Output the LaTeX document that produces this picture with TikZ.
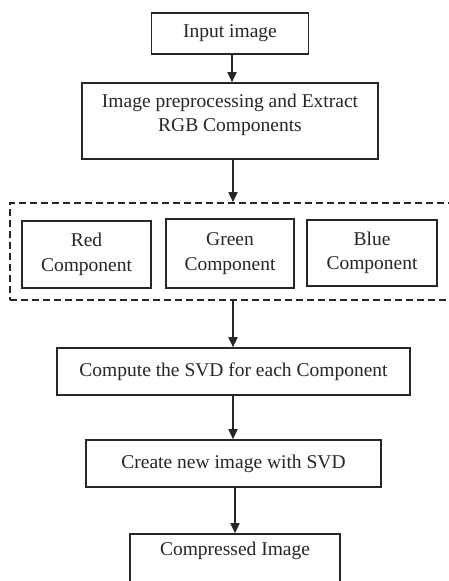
\documentclass[tikz,border=0pt]{standalone}
\usepackage{fontspec}
\setmainfont{Liberation Serif}
\usetikzlibrary{arrows.meta}
\definecolor{ink}{HTML}{262626}
\tikzset{
  box/.style={draw=ink, line width=1.6pt, fill=white, inner sep=0pt},
  txt/.style={text=ink, align=center, inner sep=0pt, font=\fontsize{19.5}{24.5}\selectfont},
  dashbox/.style={draw=ink, line width=1.6pt, dash pattern=on 7pt off 4pt, inner sep=0pt},
  arr/.style={draw=ink, line width=1.6pt, -{Triangle[length=10pt,width=9pt]}}
}
\begin{document}
\begin{tikzpicture}[x=1pt,y=-1pt]
  \useasboundingbox (0,0) rectangle (449,581);
  \clip (0,0) rectangle (449,581);

  % input image
  \node[box, minimum width=157pt, minimum height=41pt, txt] (inp) at (230,33.5) {Input image};

  % preprocessing step, text sits in the upper part of the box
  \node[box, minimum width=296pt, minimum height=76pt] (pre) at (230,121) {};
  \node[txt] (pretxt) at (230,115) {Image preprocessing and Extract\\RGB Components};

  % colour channel group
  \node[dashbox, minimum width=460pt, minimum height=97pt] (grp) at (240,251.5) {};
  \node[box, minimum width=129pt, minimum height=67pt, txt] (red) at (86.5,254.5) {Red\\Component};
  \node[box, minimum width=128pt, minimum height=69pt, txt] (green) at (230,253.5) {Green\\Component};
  \node[box, minimum width=130pt, minimum height=66pt, txt] (blue) at (372,253) {Blue\\Component};

  % SVD steps
  \node[box, minimum width=353pt, minimum height=47pt, txt] (svd) at (233.5,371.5) {Compute the SVD for each Component};
  \node[box, minimum width=295pt, minimum height=47pt, txt] (create) at (233.5,463.5) {Create new image with SVD};

  % output, box runs past the lower edge
  \node[box, minimum width=210pt, minimum height=70pt] (comp) at (235,569) {};
  \node[txt] (comptxt) at (235,551) {Compressed Image};

  % connectors
  \coordinate (c1) at (232,0);
  \coordinate (c2) at (233,0);
  \coordinate (c3) at (235,0);
  \draw[arr] (inp.south -| c1) -- (pre.north -| c1);
  \draw[arr] (pre.south -| c2) -- (grp.north -| c2);
  \draw[arr] (grp.south -| c2) -- (svd.north -| c2);
  \draw[arr] (svd.south -| c2) -- (create.north -| c2);
  \draw[arr] (create.south -| c3) -- (comp.north -| c3);
\end{tikzpicture}
\end{document}
